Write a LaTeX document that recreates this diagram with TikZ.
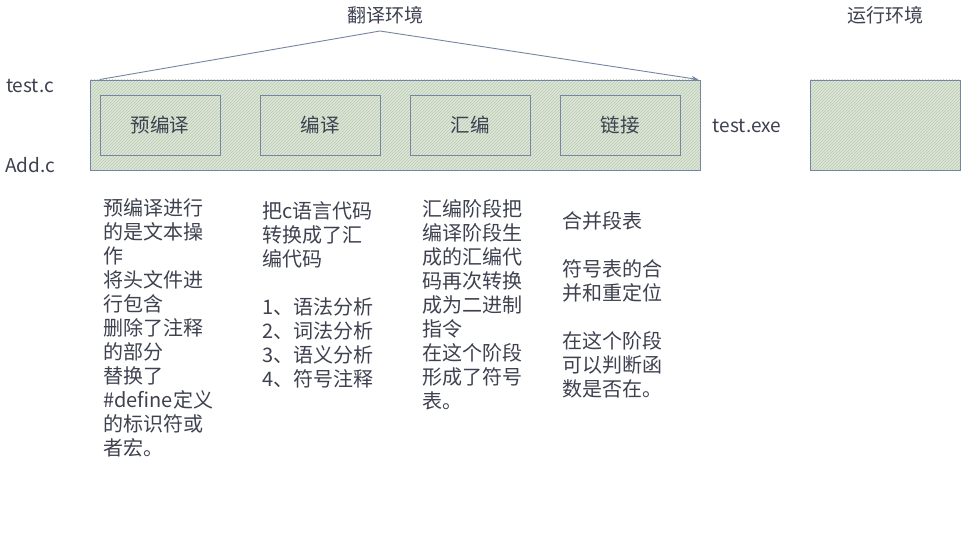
\documentclass[tikz,border=0pt]{standalone}
\usepackage{fontspec}
\setmainfont{Noto Sans CJK SC}
\usetikzlibrary{patterns,arrows.meta}
\definecolor{boxline}{HTML}{7586A3}
\definecolor{boxfill}{HTML}{DDE6D8}
\definecolor{hatch}{HTML}{B9CCB3}
\definecolor{inktext}{HTML}{3E4150}
\tikzset{
  envbox/.style={draw=boxline, line width=0.9pt,
    preaction={fill=boxfill},
    preaction={pattern=north east lines, pattern color=hatch}},
  stagebox/.style={envbox, minimum width=120, minimum height=60, inner sep=0pt,
    font=\fontsize{19.5}{24}\selectfont, text=inktext},
  label/.style={text=inktext, font=\fontsize{19}{22}\selectfont, inner sep=0pt},
  notes/.style={text=inktext, font=\fontsize{20}{24}\selectfont, align=left,
    anchor=north west, inner sep=0pt}
}
\begin{document}
\begin{tikzpicture}[x=1pt, y=-1pt]
  %%%%% frame %%%%%
  \useasboundingbox[fill=white] (0,0) rectangle (972,537);

  %%%%% environments %%%%%
  \node[envbox, minimum width=610, minimum height=90, inner sep=0pt] (fanyi) at (395,125) {};
  \node[envbox, minimum width=150, minimum height=90, inner sep=0pt] (yunxing) at (885,125) {};

  \node[label] (fanyititle) at (385,15) {翻译环境};
  \node[label] (yunxingtitle) at (885,15) {运行环境};

  %%%%% stages %%%%%
  \node[stagebox] (yubianyi) at (160,125) {预编译};
  \node[stagebox] (bianyi) at (320,125) {编译};
  \node[stagebox] (huibian) at (470,125) {汇编};
  \node[stagebox] (lianjie) at (620,125) {链接};

  %%%%% files %%%%%
  \node[label] (testc) at (30,86) {test.c};
  \node[label] (addc) at (30,165) {Add.c};
  \node[label] (testexe) at (747,126) {test.exe};

  %%%%% arrow over the translation environment %%%%%
  \coordinate (apex) at (380,31);
  \draw[boxline, line width=0.9pt, -{Stealth[length=7pt]}]
    ([xshift=10]fanyi.north west) -- (apex) -- ([xshift=-2]fanyi.north east);

  %%%%% notes %%%%%
  \node[notes] (yubianyinote) at (103,198) {预编译进行\\的是文本操\\作\\将头文件进\\行包含\\删除了注释\\的部分\\替换了\\\#define定义\\的标识符或\\者宏。};
  \node[notes] (bianyinote) at (262,201) {把c语言代码\\转换成了汇\\编代码\\[24pt]1、语法分析\\2、词法分析\\3、语义分析\\4、符号注释};
  \node[notes] (huibiannote) at (422,199) {汇编阶段把\\编译阶段生\\成的汇编代\\码再次转换\\成为二进制\\指令\\在这个阶段\\形成了符号\\表。};
  \node[notes] (lianjienote) at (562,211) {合并段表\\[24pt]符号表的合\\并和重定位\\[24pt]在这个阶段\\可以判断函\\数是否在。};
\end{tikzpicture}
\end{document}
